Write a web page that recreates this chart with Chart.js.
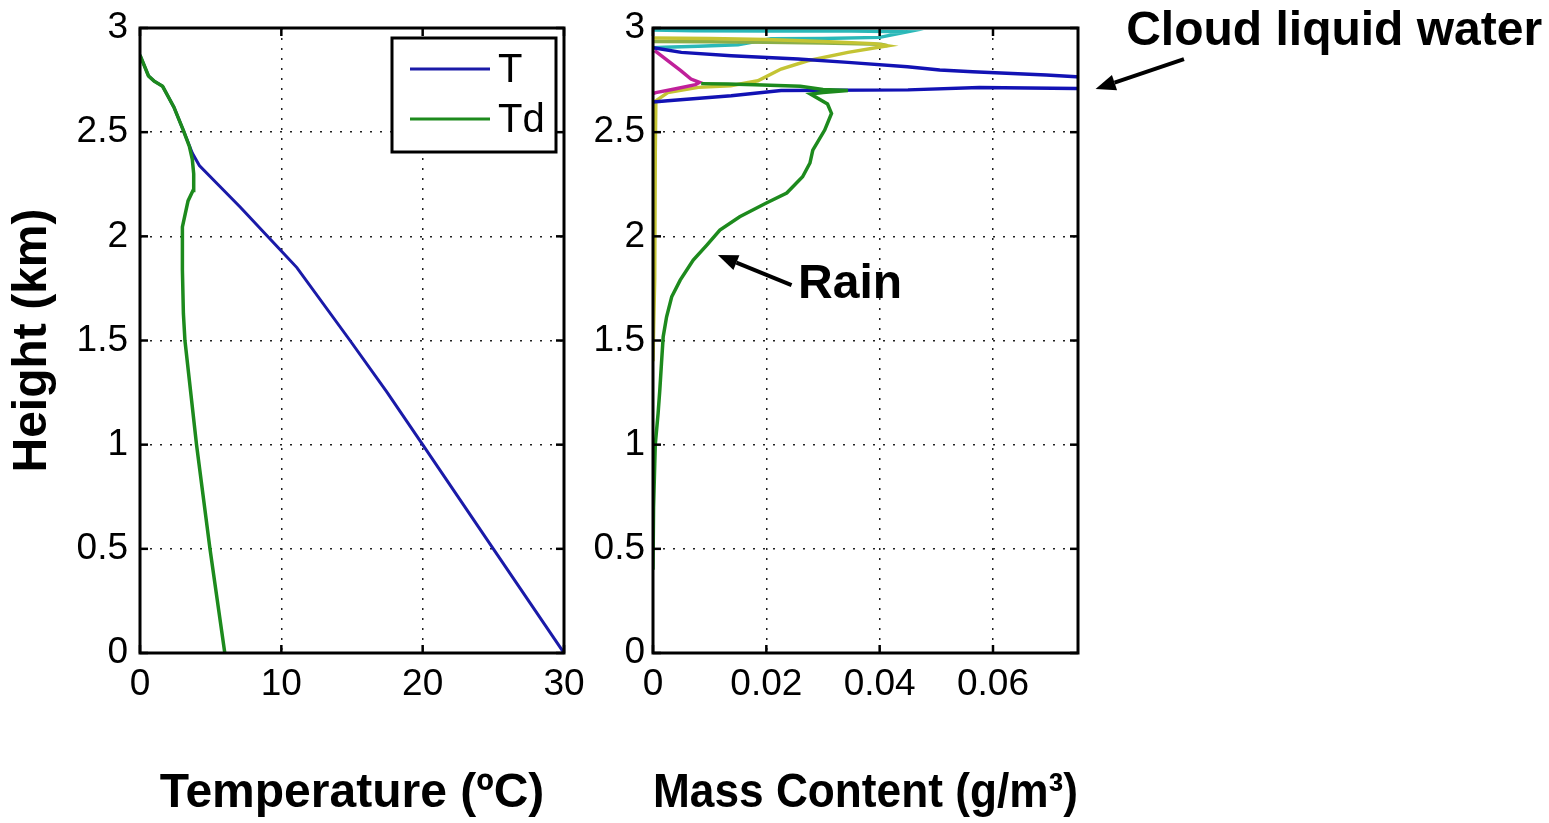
<!DOCTYPE html>
<html>
<head>
<meta charset="utf-8">
<script src="https://cdn.jsdelivr.net/npm/chart.js@4.4.1/dist/chart.umd.min.js"></script>
<style>
  html, body { margin: 0; padding: 0; background: #fff; width: 1549px; height: 823px; overflow: hidden; }
  #left  { position: absolute; left: 0; top: 0; }
  #right { position: absolute; left: 570px; top: 0; }
</style>
</head>
<body>
<canvas id="left" width="600" height="823"></canvas>
<canvas id="right" width="979" height="823"></canvas>
<script>
// ---------------- DATA ----------------
// Left panel: temperature profiles (x = degC, y = height km)
const tTemp   = [30, 25, 20, 17.46, 14.86, 11.1, 10.0, 7.1, 5.5, 4.2, 3.7, 3.06, 2.4, 1.6, 1.0, 0.6, 0.3, 0];
const tHeight = [0, 0.5, 1.0, 1.253, 1.5, 1.85, 1.93, 2.14, 2.25, 2.34, 2.40, 2.51, 2.62, 2.72, 2.745, 2.77, 2.82, 2.87];

const tdTemp   = [6.0, 4.95, 4.0, 3.18, 3.07, 3.0, 3.0, 3.4, 3.75, 3.8, 3.7, 3.5, 3.06, 2.4, 2.0, 1.6, 1.0, 0.6, 0.3, 0];
const tdHeight = [0, 0.5, 1.0, 1.5, 1.63, 1.84, 2.045, 2.17, 2.22, 2.30, 2.37, 2.43, 2.51, 2.62, 2.67, 2.72, 2.745, 2.77, 2.82, 2.87];

// Right panel: hydrometeor mass content (x = g/m3, y = height km)
const cloudMass   = [0, 0.0014, 0.005, 0.0138, 0.0256, 0.0344, 0.0449, 0.0506, 0.0564, 0.0694, 0.0747, 0.080, 0.083, 0.080, 0.0747, 0.0576, 0.045, 0.0226, 0.0138, 0.0026, 0];
const cloudHeight = [2.905, 2.899, 2.883, 2.867, 2.851, 2.835, 2.814, 2.798, 2.79, 2.774, 2.766, 2.755, 2.73, 2.713, 2.71, 2.714, 2.703, 2.70, 2.675, 2.651, 2.645];

const rainMass   = [0.0085, 0.0132, 0.018, 0.026, 0.030, 0.0344, 0.030, 0.0278, 0.0308, 0.0315, 0.0303, 0.0282, 0.0277, 0.0264, 0.0236, 0.020, 0.0153, 0.0118, 0.0095, 0.0071, 0.0048, 0.0033, 0.0024, 0.0018, 0.0015, 0.0012, 0.0009, 0.0004, 0.0001, 0];
const rainHeight = [2.733, 2.731, 2.728, 2.72, 2.705, 2.70, 2.69, 2.683, 2.635, 2.59, 2.51, 2.414, 2.352, 2.286, 2.208, 2.16, 2.094, 2.03, 1.958, 1.886, 1.79, 1.71, 1.614, 1.518, 1.392, 1.262, 1.15, 1.0, 0.7, 0.4];

const magentaMass   = [0.0003, 0.0026, 0.0049, 0.0067, 0.0082, 0.0075, 0.0038, 0.0005, 0];
const magentaHeight = [2.891, 2.843, 2.795, 2.755, 2.739, 2.728, 2.707, 2.69, 2.685];

const yellowMass   = [0, 0.010, 0.020, 0.030, 0.039, 0.0414, 0.0344, 0.0273, 0.0226, 0.0185, 0.0137, 0.008, 0.0026, 0.0005, 0.0004, 0.0003, 0.0001, 0];
const yellowHeight = [2.952, 2.95, 2.945, 2.935, 2.925, 2.915, 2.883, 2.843, 2.803, 2.747, 2.723, 2.715, 2.69, 2.65, 2.4, 1.8, 1.55, 1.4];

const oliveMass   = [0, 0.010, 0.020, 0.030, 0.0402, 0.0414];
const oliveHeight = [2.935, 2.934, 2.932, 2.928, 2.922, 2.915];

const cyanMass   = [0, 0.0073, 0.020, 0.035, 0.0449, 0.040, 0.030, 0.0208, 0.015, 0.008, 0.002, 0];
const cyanHeight = [2.99, 2.987, 2.986, 2.985, 2.982, 2.955, 2.95, 2.948, 2.92, 2.912, 2.908, 2.905];

// Tick settings
const heightTicks = { min: 0, max: 3, step: 0.5 };
const tempTicks   = { min: 0, max: 30, step: 10 };
const massTicks   = { min: 0, max: 0.075, step: 0.02 };

// Annotations (data coordinates on the right panel)
const notes = [
  { text: 'Rain', tip: [0.01145, 1.91], tail: [0.02445, 1.766], label: [0.0256, 1.704] },
  { text: 'Cloud liquid water', tip: [0.0781, 2.707], tail: [0.0937, 2.851], label: [0.0835, 2.918] }
];

// ---------------- STYLE ----------------
const FONT = 'Arial, "Liberation Sans", Helvetica, sans-serif';
Chart.defaults.font.family = FONT;
Chart.defaults.color = '#000';

function pts(xs, ys) { return xs.map((x, i) => ({ x: x, y: ys[i] })); }
function lineDs(label, xs, ys, color, order, w) {
  return { label, data: pts(xs, ys), borderColor: color, backgroundColor: color, borderWidth: w || 3.5,
           pointRadius: 0, pointHoverRadius: 0, showLine: true, fill: false, tension: 0, order };
}
const fmt = v => String(Number(Number(v).toFixed(4)));

const gridOpts = { color: '#222', lineWidth: 1.5, drawTicks: false, borderDash: [2, 8] };
const borderOpts = { display: false, dash: [2, 8] };

function seg(ctx, x1, y1, x2, y2) { ctx.beginPath(); ctx.moveTo(x1, y1); ctx.lineTo(x2, y2); ctx.stroke(); }

const framePlugin = {
  id: 'frame',
  afterDatasetsDraw(chart) {
    const { ctx, chartArea: a, scales } = chart;
    const x = scales.x, y = scales.y;
    ctx.save();
    ctx.setLineDash([]);
    ctx.strokeStyle = '#000';
    ctx.lineWidth = 2.5;
    const L = 8;
    x.ticks.forEach(t => {
      const px = x.getPixelForValue(t.value);
      seg(ctx, px, a.bottom, px, a.bottom - L);
      seg(ctx, px, a.top, px, a.top + L);
    });
    y.ticks.forEach(t => {
      const py = y.getPixelForValue(t.value);
      seg(ctx, a.left, py, a.left + L, py);
      seg(ctx, a.right, py, a.right - L, py);
    });
    ctx.lineWidth = 3;
    ctx.strokeRect(a.left, a.top, a.right - a.left, a.bottom - a.top);
    ctx.restore();
  }
};

const boxLegendPlugin = {
  id: 'boxLegend',
  afterDraw(chart) {
    const { ctx, chartArea: a } = chart;
    const w = 164, h = 114;
    const bx = a.right - 8 - w, by = a.top + 10;
    ctx.save();
    ctx.fillStyle = '#fff';
    ctx.fillRect(bx, by, w, h);
    ctx.strokeStyle = '#000';
    ctx.lineWidth = 3;
    ctx.strokeRect(bx, by, w, h);
    chart.data.datasets.forEach((ds, i) => {
      const yy = by + 31 + i * 50;
      ctx.strokeStyle = ds.borderColor;
      ctx.lineWidth = 3;
      seg(ctx, bx + 18, yy, bx + 98, yy);
      ctx.fillStyle = '#000';
      ctx.font = '40px ' + FONT;
      ctx.textBaseline = 'middle';
      ctx.textAlign = 'left';
      ctx.fillText(ds.label, bx + 106, yy + 2);
    });
    ctx.restore();
  }
};

function drawArrow(ctx, x1, y1, x2, y2) {
  const ang = Math.atan2(y2 - y1, x2 - x1);
  const hl = 20, hw = 8;
  const bxp = x2 - hl * Math.cos(ang), byp = y2 - hl * Math.sin(ang);
  ctx.strokeStyle = '#000';
  ctx.fillStyle = '#000';
  ctx.lineWidth = 4;
  seg(ctx, x1, y1, bxp, byp);
  ctx.beginPath();
  ctx.moveTo(x2, y2);
  ctx.lineTo(bxp + hw * Math.sin(ang), byp - hw * Math.cos(ang));
  ctx.lineTo(bxp - hw * Math.sin(ang), byp + hw * Math.cos(ang));
  ctx.closePath();
  ctx.fill();
}

const notesPlugin = {
  id: 'notes',
  afterDraw(chart) {
    const { ctx, scales: { x, y } } = chart;
    ctx.save();
    notes.forEach(n => {
      drawArrow(ctx, x.getPixelForValue(n.tail[0]), y.getPixelForValue(n.tail[1]),
                     x.getPixelForValue(n.tip[0]), y.getPixelForValue(n.tip[1]));
      ctx.fillStyle = '#000';
      ctx.font = 'bold 48px ' + FONT;
      ctx.textAlign = 'left';
      ctx.textBaseline = 'alphabetic';
      ctx.fillText(n.text, x.getPixelForValue(n.label[0]), y.getPixelForValue(n.label[1]));
    });
    ctx.restore();
  }
};

function yScale(width, pad, withTitle) {
  return {
    type: 'linear', min: heightTicks.min, max: heightTicks.max,
    afterFit: s => { s.width = width; },
    ticks: { stepSize: heightTicks.step, font: { size: 37, lineHeight: 0.8 }, padding: pad, color: '#000', callback: fmt },
    grid: gridOpts, border: borderOpts,
    title: { display: withTitle, text: 'Height (km)', color: '#000',
             font: { size: 48, weight: 'bold' }, padding: { top: 4, bottom: 0 } }
  };
}
function xScale(t, titleText) {
  return {
    type: 'linear', min: t.min, max: t.max,
    afterFit: s => { s.height = 170; },
    ticks: { stepSize: t.step, font: { size: 37 }, padding: 10, maxRotation: 0, includeBounds: false, color: '#000', callback: fmt },
    grid: gridOpts, border: borderOpts,
    title: { display: true, text: titleText, color: '#000',
             font: { size: 48, weight: 'bold' }, padding: { top: 0, bottom: 0 } }
  };
}

const common = {
  responsive: false, animation: false, devicePixelRatio: 1,
  plugins: { legend: { display: false }, tooltip: { enabled: false } },
  events: []
};

new Chart(document.getElementById('left'), {
  type: 'scatter',
  data: { datasets: [
    lineDs('T', tTemp, tHeight, '#1a1aa8', 2, 3),
    lineDs('Td', tdTemp, tdHeight, '#1d8a1d', 1, 3.5)
  ] },
  options: Object.assign({}, common, {
    layout: { padding: { left: 0, right: 36, top: 28, bottom: 0 } },
    scales: { x: xScale(tempTicks, 'Temperature (\u00BAC)'), y: yScale(140, 12, true) }
  }),
  plugins: [framePlugin, boxLegendPlugin]
});

new Chart(document.getElementById('right'), {
  type: 'scatter',
  data: { datasets: [
    lineDs('Cloud liquid water', cloudMass, cloudHeight, '#1212b4', 2),
    lineDs('Rain', rainMass, rainHeight, '#1d8a1d', 1),
    lineDs('Cyan', cyanMass, cyanHeight, '#2ab8b8', 6),
    lineDs('Magenta', magentaMass, magentaHeight, '#c0209a', 3),
    lineDs('Yellow', yellowMass, yellowHeight, '#c4c434', 4),
    lineDs('Olive', oliveMass, oliveHeight, '#8aae4a', 5)
  ] },
  options: Object.assign({}, common, {
    layout: { padding: { left: 0, right: 471, top: 28, bottom: 0 } },
    scales: { x: xScale(massTicks, 'Mass Content (g/m\u00B3)'), y: yScale(83, 8, false) }
  }),
  plugins: [framePlugin, notesPlugin]
});
</script>
</body>
</html>
